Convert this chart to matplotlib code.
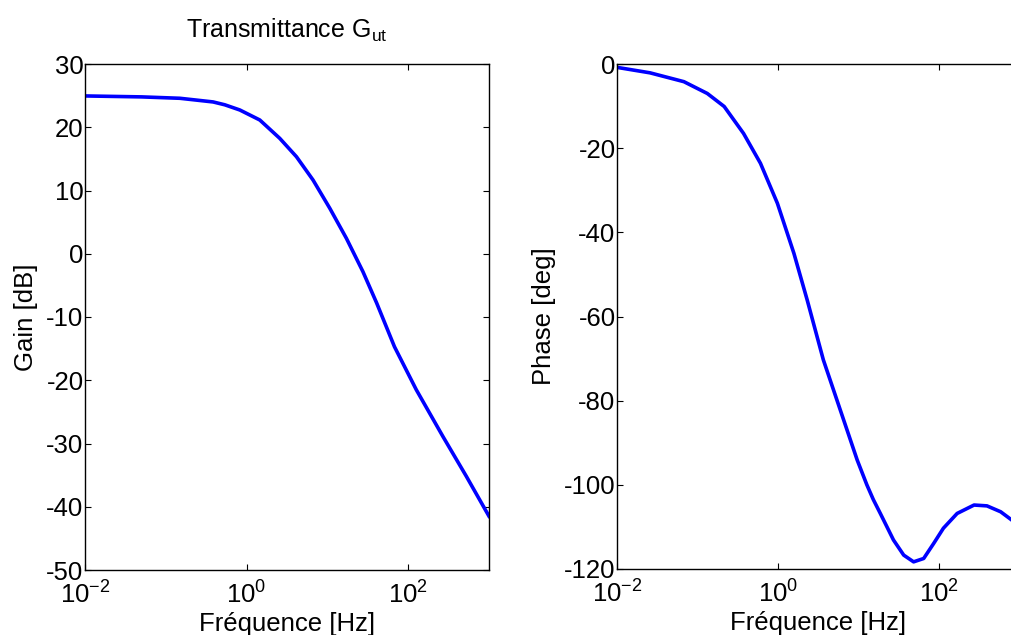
import numpy as np
import matplotlib
matplotlib.use("Agg")
import matplotlib.pyplot as plt
from matplotlib.ticker import FixedLocator

plt.rcParams['font.family'] = ['Liberation Sans', 'DejaVu Sans']
plt.rcParams['mathtext.fontset'] = 'custom'
plt.rcParams['mathtext.rm'] = 'Liberation Sans'
plt.rcParams['mathtext.it'] = 'Liberation Sans'
plt.rcParams['mathtext.bf'] = 'Liberation Sans:bold'

# Gain data (log10 of frequency, dB)
gain_logf = [-2.0, -1.30, -0.826, -0.64, -0.414, -0.27, -0.084, 0.163, 0.41,
             0.617, 0.822, 1.03, 1.235, 1.44, 1.61, 1.83, 2.10, 2.43, 2.72, 3.0]
gain_db = [24.95, 24.8, 24.58, 24.32, 24.0, 23.55, 22.73, 21.15, 18.25,
           15.34, 11.66, 7.18, 2.44, -2.84, -7.8, -14.7, -21.5, -28.9, -35.2, -41.5]

# Phase data (log10 of frequency, degrees)
phase_logf = [-2.0, -1.59, -1.17, -0.88, -0.67, -0.43, -0.22, -0.01, 0.195,
              0.36, 0.56, 0.77, 0.98, 1.10, 1.18, 1.267, 1.43, 1.557, 1.68,
              1.805, 1.93, 2.05, 2.22, 2.43, 2.59, 2.76, 2.90, 3.0]
phase_deg = [-0.8, -2.1, -4.2, -7.0, -10.1, -16.5, -23.6, -33.1, -45.0,
             -56.1, -70.3, -82.2, -94.1, -100.0, -103.5, -106.8, -113.1, -116.7,
             -118.3, -117.5, -113.9, -110.3, -106.8, -104.8, -105.0, -106.4,
             -108.4, -109.8]

xticks = [1e-2, 1e0, 1e2]
xticklabels = [r'$\mathregular{10^{-2}}$', r'$\mathregular{10^{0}}$', r'$\mathregular{10^{2}}$']
gain_yticks = [30, 20, 10, 0, -10, -20, -30, -40, -50]
phase_yticks = [0, -20, -40, -60, -80, -100, -120]

W, H = 1012, 635
fig = plt.figure(figsize=(W / 100, H / 100), dpi=100)

ax1 = fig.add_axes([85 / W, (H - 570) / H, (489 - 85) / W, (570 - 64) / H])
ax2 = fig.add_axes([617 / W, (H - 569) / H, (1020 - 617) / W, (569 - 64) / H])

FS = 18.5
blue = (0, 0, 1)
ax1.plot(10 ** np.array(gain_logf), gain_db, color=blue, lw=2.6,
         solid_joinstyle='round')
ax2.plot(10 ** np.array(phase_logf), phase_deg, color=blue, lw=2.6,
         solid_joinstyle='round')

for ax, yt, ylim, ylabel in [(ax1, gain_yticks, (-50, 30), 'Gain [dB]'),
                              (ax2, phase_yticks, (-120, 0), 'Phase [deg]')]:
    ax.set_xscale('log')
    ax.set_xlim(1e-2, 1e3)
    ax.set_ylim(*ylim)
    ax.xaxis.set_major_locator(FixedLocator(xticks))
    ax.xaxis.set_minor_locator(FixedLocator([]))
    ax.set_xticklabels(xticklabels)
    ax.set_yticks(yt)
    ax.set_yticklabels([str(v) for v in yt])
    ax.tick_params(direction='in', length=4, width=0.8, top=True, right=True,
                   labelsize=FS, pad=1, colors='black')
    ax.tick_params(axis='x', pad=8)
    for s in ax.spines.values():
        s.set_linewidth(1.0)
        s.set_color('black')
    ax.set_xlabel('Fréquence [Hz]', fontsize=FS, labelpad=3)
    ax.set_ylabel(ylabel, fontsize=FS, labelpad=6)

ax1.set_title(r'Transmittance G$\mathregular{_{ut}}$', fontsize=FS - 0.5, pad=19)

fig.savefig('out.png', dpi=100, facecolor='white')
